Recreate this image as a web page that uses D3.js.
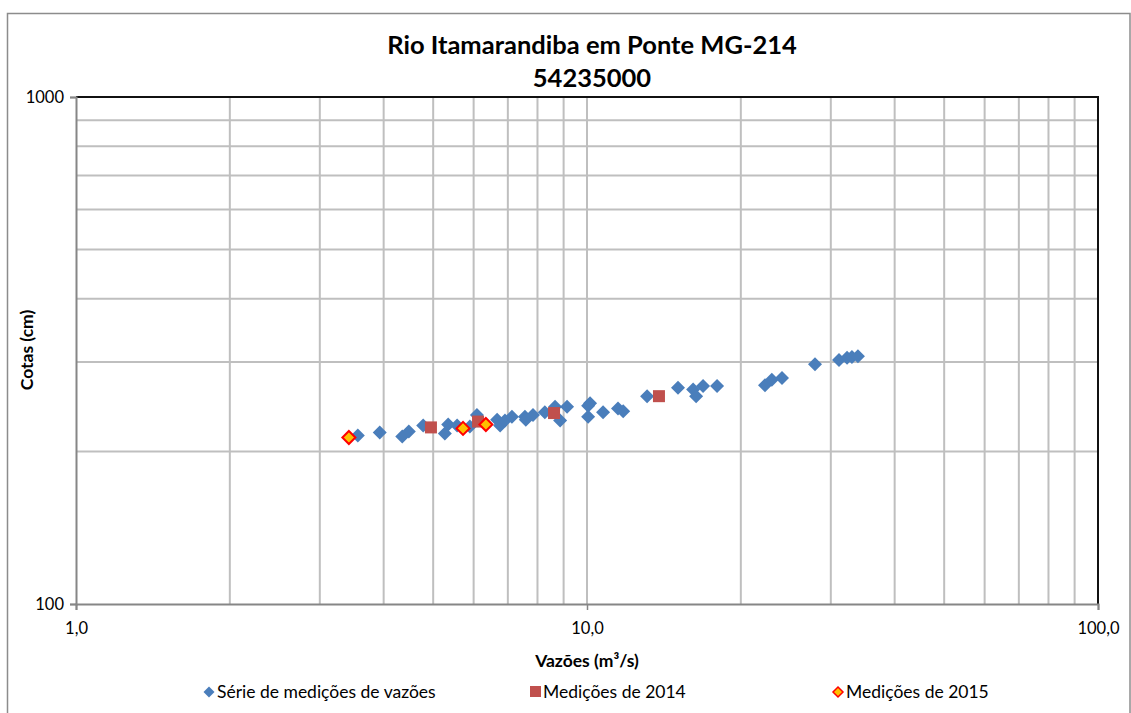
<!DOCTYPE html>
<html>
<head>
<meta charset="utf-8">
<script src="https://cdn.jsdelivr.net/npm/d3@7"></script>
<style>
  html, body { margin: 0; padding: 0; background: #fff; }
  svg { display: block; font-family: "Lato", "Open Sans", sans-serif; }
</style>
</head>
<body>
<svg id="chart" width="1131" height="713"></svg>
<script>
// Flow (m³/s) and stage (cm) pairs
const serieVazoes = [3.56, 3.93, 4.35, 4.48, 4.78, 5.27, 5.35, 5.57, 5.90, 6.09, 6.67, 6.76, 6.91, 7.13, 7.56, 7.59, 7.84, 8.27, 8.66, 8.86, 9.14, 10.14, 10.05, 10.05, 10.75, 11.5, 11.77, 13.11, 15.07, 16.13, 16.35, 16.87, 17.97, 22.3, 23.0, 24.08, 27.94, 31.13, 32.28, 33.0, 33.9];
const serieCotas   = [215, 218, 214, 219, 225, 217, 226, 225, 224, 236, 231, 225, 230, 234, 234, 231, 236, 239, 245, 230, 245, 249, 234, 246, 239, 243, 240, 257, 267, 265, 257, 269, 269, 270, 277, 279, 297, 303, 306, 307, 308];

const vazoes2014 = [4.95, 6.12, 8.62, 13.83];
const cotas2014  = [223, 229, 238, 257];

const vazoes2015 = [3.42, 5.72, 6.34];
const cotas2015  = [213, 222, 226];

const xTickValues = [1, 10, 100];
const xTickLabels = ["1,0", "10,0", "100,0"];
const yTickValues = [100, 1000];
const yTickLabels = ["100", "1000"];

const titleLines = ["Rio Itamarandiba em Ponte MG-214", "54235000"];
const legendLabels = ["Série de medições de vazões", "Medições de 2014", "Medições de 2015"];

const svg = d3.select("#chart");
const plot = { left: 76, right: 1098, top: 97, bottom: 604 };

// Outer chart frame
svg.append("rect")
  .attr("x", 7.5).attr("y", 13.5)
  .attr("width", 1130 - 7.5).attr("height", 720)
  .attr("fill", "#fff").attr("stroke", "#8c8c8c").attr("stroke-width", 1.5);

const x = d3.scaleLog().domain([1, 100]).range([plot.left, plot.right]);
const y = d3.scaleLog().domain([100, 1000]).range([plot.bottom, plot.top]);

// Grid lines at every minor decade step
const xGrid = [];
const yGrid = [];
for (let d = 1; d <= 10; d *= 10) for (let k = 2; k <= 9; k++) xGrid.push(k * d);
xGrid.push(10);
for (let k = 2; k <= 9; k++) yGrid.push(k * 100);

const grid = svg.append("g").attr("stroke", "#bfbfbf").attr("stroke-width", 2);
grid.selectAll("line.v").data(xGrid).join("line").attr("class", "v")
  .attr("x1", d => x(d)).attr("x2", d => x(d))
  .attr("y1", plot.top).attr("y2", plot.bottom);
grid.selectAll("line.h").data(yGrid).join("line").attr("class", "h")
  .attr("x1", plot.left).attr("x2", plot.right)
  .attr("y1", d => y(d)).attr("y2", d => y(d));

// Plot frame: dark top/right, grey axes
svg.append("line").attr("x1", plot.left).attr("x2", plot.right + 1)
  .attr("y1", plot.top).attr("y2", plot.top).attr("stroke", "#111").attr("stroke-width", 2);
svg.append("line").attr("x1", plot.right).attr("x2", plot.right)
  .attr("y1", plot.top).attr("y2", plot.bottom).attr("stroke", "#111").attr("stroke-width", 2);

// Axes
const xAxis = d3.axisBottom(x).tickValues(xTickValues)
  .tickFormat((d, i) => xTickLabels[i]).tickSize(6).tickPadding(10);
const yAxis = d3.axisLeft(y).tickValues(yTickValues)
  .tickFormat((d, i) => yTickLabels[i]).tickSize(6).tickPadding(6);

const gx = svg.append("g").attr("transform", `translate(0,${plot.bottom})`).call(xAxis);
const gy = svg.append("g").attr("transform", `translate(${plot.left},0)`).call(yAxis);
[gx, gy].forEach(g => {
  g.select(".domain").attr("stroke", "#868686").attr("stroke-width", 2);
  g.selectAll(".tick line").attr("stroke", "#868686").attr("stroke-width", 1.5);
  g.selectAll(".tick text").attr("fill", "#000").attr("font-size", 16.5)
    .attr("font-family", "Lato, 'Open Sans', sans-serif");
});
gx.selectAll(".tick text").attr("dy", "0.85em");

// Titles
svg.append("g").selectAll("text").data(titleLines).join("text")
  .attr("x", 592).attr("y", (d, i) => 54 + i * 33)
  .attr("text-anchor", "middle").attr("font-size", 25.5).attr("font-weight", "bold")
  .text(d => d);

svg.append("text").attr("x", 587).attr("y", 667)
  .attr("text-anchor", "middle").attr("font-size", 17.5).attr("font-weight", "bold")
  .text("Vazões (m³/s)");

svg.append("text").attr("transform", "translate(33,350) rotate(-90)")
  .attr("text-anchor", "middle").attr("font-size", 17.5).attr("font-weight", "bold")
  .text("Cotas (cm)");

// Markers
const diamond = s => `M0,${-s}L${s},0L0,${s}L${-s},0Z`;
const pts = (xs, ys) => xs.map((v, i) => [v, ys[i]]);

svg.append("g").selectAll("path").data(pts(serieVazoes, serieCotas)).join("path")
  .attr("transform", d => `translate(${x(d[0])},${y(d[1])})`)
  .attr("d", diamond(7)).attr("fill", "#4a7ebb");

svg.append("g").selectAll("rect").data(pts(vazoes2014, cotas2014)).join("rect")
  .attr("x", d => x(d[0]) - 6).attr("y", d => y(d[1]) - 6)
  .attr("width", 12).attr("height", 12).attr("fill", "#c0504d");

svg.append("g").selectAll("path").data(pts(vazoes2015, cotas2015)).join("path")
  .attr("transform", d => `translate(${x(d[0])},${y(d[1])})`)
  .attr("d", diamond(6.5)).attr("fill", "#ffc000")
  .attr("stroke", "#ff0000").attr("stroke-width", 2);

// Legend
const legendX = [203, 529, 832];
const lg = svg.append("g");
lg.append("path").attr("transform", `translate(${legendX[0] + 6},692)`)
  .attr("d", diamond(5.5)).attr("fill", "#4a7ebb");
lg.append("rect").attr("x", legendX[1] + 1).attr("y", 686).attr("width", 11).attr("height", 11)
  .attr("fill", "#c0504d");
lg.append("path").attr("transform", `translate(${legendX[2] + 6},692)`)
  .attr("d", diamond(5)).attr("fill", "#ffc000").attr("stroke", "#ff0000").attr("stroke-width", 1.5);
lg.selectAll("text").data(legendLabels).join("text")
  .attr("x", (d, i) => legendX[i] + 14).attr("y", 698)
  .attr("font-size", 17.5).text(d => d);
</script>
</body>
</html>
